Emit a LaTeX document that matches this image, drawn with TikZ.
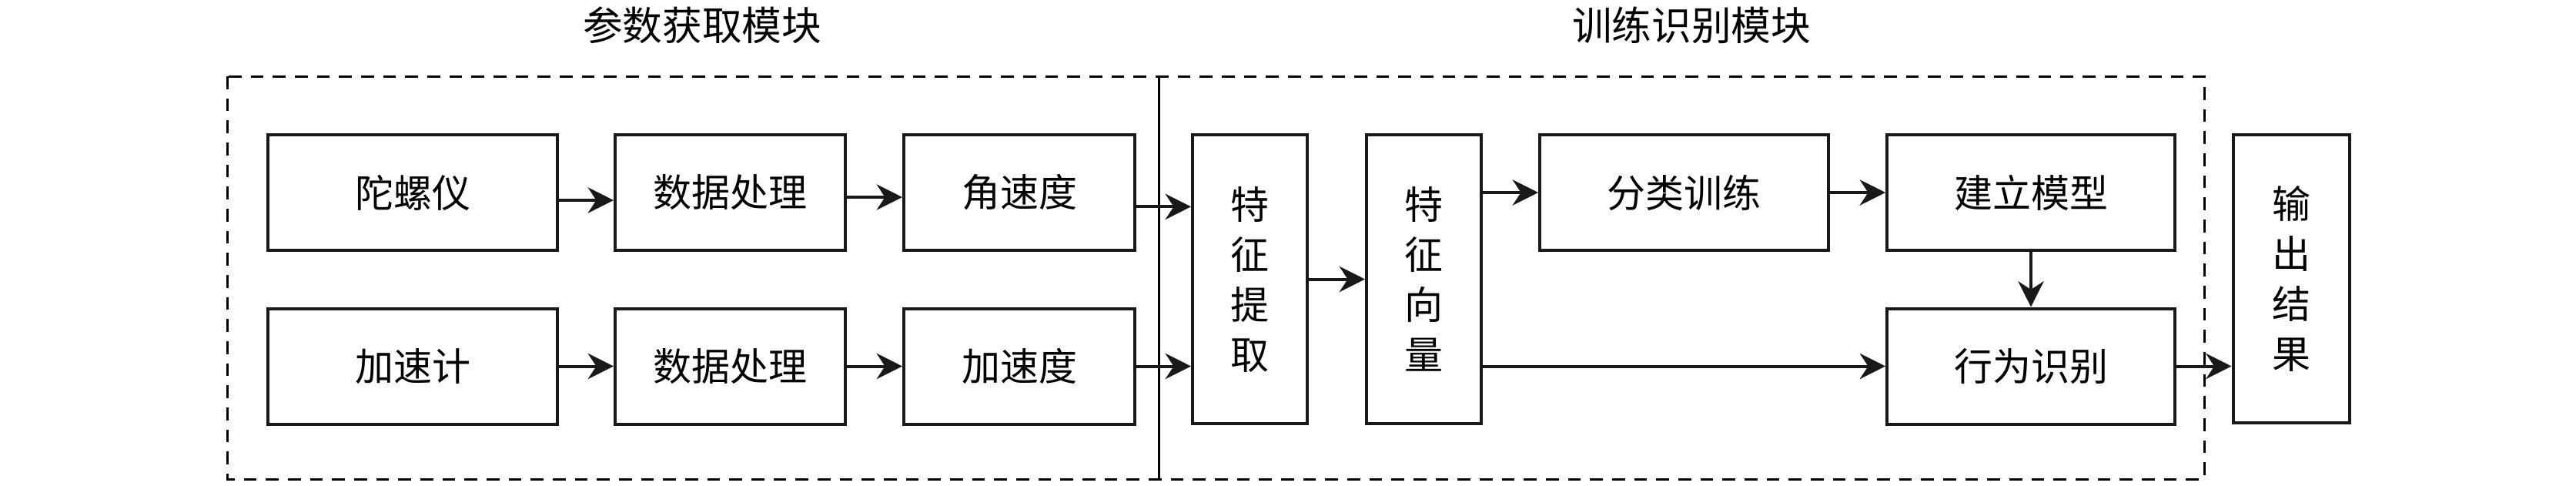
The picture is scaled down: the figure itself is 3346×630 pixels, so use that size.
\documentclass[tikz,border=0pt]{standalone}
\usepackage{fontspec}
\newfontfamily\cjk{Noto Sans CJK SC}
\usetikzlibrary{arrows.meta}
\begin{document}
\begin{tikzpicture}[x=0.3pt,y=-0.3pt,
  box/.style={draw=black!90,line width=1.2pt,inner sep=0pt,align=center,
    font=\cjk\fontsize{15pt}{19.5pt}\selectfont},
  hbox/.style={box,minimum height=45pt},
  vbox/.style={box,minimum width=44.7pt,minimum height=112.5pt},
  arr/.style={draw=black!90,line width=1.2pt,-{Stealth[length=10pt,width=10pt]}},
  title/.style={font=\cjk\fontsize{15.5pt}{18pt}\selectfont}]
\useasboundingbox (0,0) rectangle (3346,630);
% titles
\node[title] (t1) at (912,33) {参数获取模块};
\node[title] (t2) at (2197,33) {训练识别模块};
% frames
\draw[line width=0.9pt,dash pattern=on 5pt off 3.6pt] (295,99) rectangle (2863,622);
\draw[line width=0.9pt] (1505,99) -- (1505,622);
% row 1
\node[hbox,minimum width=112.8pt] (gyro) at (536,250) {陀螺仪};
\node[hbox,minimum width=89.7pt] (dp1) at (948.5,250) {数据处理};
\node[hbox,minimum width=90pt] (angv) at (1324,250) {角速度};
% row 2
\node[hbox,minimum width=112.8pt] (acc) at (536,475.5) {加速计};
\node[hbox,minimum width=89.7pt] (dp2) at (948.5,475.5) {数据处理};
\node[hbox,minimum width=90pt] (accv) at (1324,475.5) {加速度};
% training
\node[vbox] (fe) at (1623.5,362.5) {特\\征\\提\\取};
\node[vbox] (fv) at (1849.5,362.5) {特\\征\\向\\量};
\node[hbox,minimum width=112.5pt] (cls) at (2187.5,250) {分类训练};
\node[hbox,minimum width=112.2pt] (model) at (2638,250) {建立模型};
\node[hbox,minimum width=112.2pt] (rec) at (2638,475.5) {行为识别};
\node[vbox,minimum width=45.3pt,minimum height=112.2pt] (out) at (2976,362) {输\\出\\结\\果};
% arrows
\coordinate (p1) at ([yshift=-3pt]gyro.east);
\draw[arr] (p1) -- (p1 -| dp1.west);
\coordinate (p2) at ([yshift=-1.8pt]dp1.east);
\draw[arr] (p2) -- (p2 -| angv.west);
\coordinate (p3) at ([yshift=-5.5pt]angv.east);
\draw[arr] (p3) -- (p3 -| fe.west);
\draw[arr] (acc.east) -- (dp2.west);
\draw[arr] (dp2.east) -- (accv.west);
\draw[arr] (accv.east) -- (accv.east -| fe.west);
\draw[arr] (fe.east) -- (fe.east -| fv.west);
\draw[arr] (fv.east |- cls.west) -- (cls.west);
\draw[arr] (cls.east) -- (model.west);
\draw[arr] (fv.east |- rec.west) -- (rec.west);
\draw[arr] (model.south) -- (rec.north);
\draw[arr] (rec.east) -- (rec.east -| out.west);
\end{tikzpicture}
\end{document}
